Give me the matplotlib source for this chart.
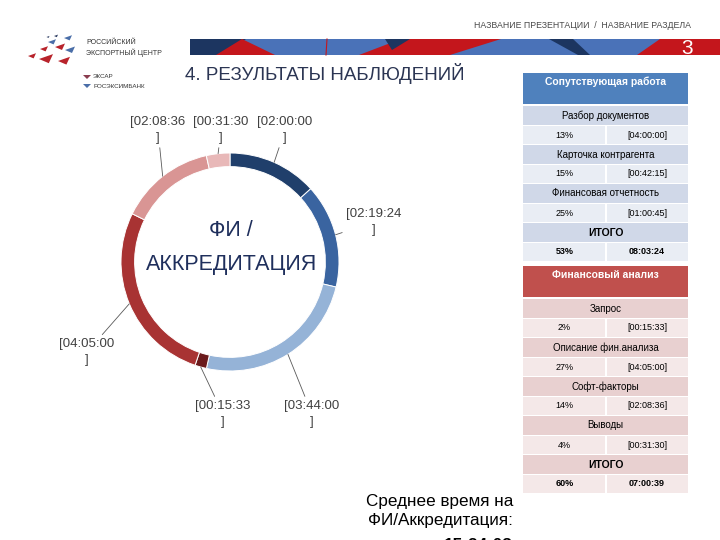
import numpy as np
import matplotlib
matplotlib.use("Agg")
import matplotlib.pyplot as plt
from matplotlib.patches import Rectangle, Polygon

plt.rcParams['font.family'] = ['Liberation Sans', 'DejaVu Sans']

# donut data (time per stage, clockwise from top)
ring_times = ["02:00:00", "02:19:24", "03:44:00", "00:15:33", "04:05:00", "02:08:36", "00:31:30"]
ring_colors = ["#203f6b", "#3a64a0", "#95b3d7", "#6b1a1c", "#a83333", "#d99594", "#e8b8b8"]

# table 1 - Сопутствующая работа
t1_title = "Сопутствующая работа"
t1_names = ["Разбор документов", "Карточка контрагента", "Финансовая отчетность"]
t1_pct = ["13%", "15%", "25%"]
t1_time = ["[04:00:00]", "[00:42:15]", "[01:00:45]"]
t1_total = ["53%", "08:03:24"]

# table 2 - Финансовый анализ
t2_title = "Финансовый анализ"
t2_names = ["Запрос", "Описание фин.анализа", "Софт-факторы", "Выводы"]
t2_pct = ["2%", "27%", "14%", "4%"]
t2_time = ["[00:15:33]", "[04:05:00]", "[02:08:36]", "[00:31:30]"]
t2_total = ["60%", "07:00:39"]

avg_time = "15:24:03"


def to_sec(s):
    h, m, sec = s.split(":")
    return int(h) * 3600 + int(m) * 60 + int(sec)


secs = np.array([to_sec(t) for t in ring_times])

fig = plt.figure(figsize=(7.2, 5.4), dpi=100)
bg = fig.add_axes([0, 0, 1, 1])
bg.set_xlim(0, 720)
bg.set_ylim(540, 0)
bg.axis('off')

# header line + banner
bg.text(583, 25, "НАЗВАНИЕ ПРЕЗЕНТАЦИИ  /  НАЗВАНИЕ РАЗДЕЛА", fontsize=6.3,
        color="#4a4a4a", ha='center', va='center')
bg.add_patch(Rectangle((190, 39), 530, 16, color="#4a72b8", lw=0))
bg.add_patch(Polygon([(190, 39), (246, 39), (222, 55), (190, 55)], color="#1c3560", lw=0))
bg.add_patch(Polygon([(216, 55), (242, 39), (275, 55)], color="#c4161c", lw=0))
bg.add_patch(Polygon([(359, 55), (401, 39), (501, 39), (450, 55)], color="#c4161c", lw=0))
bg.add_patch(Polygon([(385, 39), (410, 39), (392, 50)], color="#1c3560", lw=0))
bg.add_patch(Polygon([(549, 39), (573, 39), (590, 55), (578, 55)], color="#1c3560", lw=0))
bg.add_patch(Polygon([(637, 55), (660, 39), (720, 39), (720, 55)], color="#c4161c", lw=0))
bg.plot([327, 326], [39, 55], color="#c4161c", lw=0.8)
bg.text(687, 48, "3", fontsize=15, color="white", ha='center', va='center')

# logo
tri_red = "#b8232b"
tri_blue = "#4a6ea8"
for (x, y, s, c) in [(32, 56, 4, tri_red), (44, 49, 4, tri_red), (52, 42, 4, tri_blue),
                     (60, 47, 5, tri_red), (68, 38, 4, tri_blue), (46, 59, 7, tri_red),
                     (64, 61, 6, tri_red), (70, 50, 5, tri_blue), (56, 36, 2, "#2b3a60"),
                     (48, 37, 1.5, "#2b3a60")]:
    bg.add_patch(Polygon([(x - s, y), (x + s, y - s * 0.7), (x + s * 0.4, y + s * 0.6)], color=c, lw=0))
bg.text(86, 43, "РОССИЙСКИЙ", fontsize=5, color="#333333", va='center')
bg.text(86, 53, "ЭКСПОРТНЫЙ ЦЕНТР", fontsize=5, color="#333333", va='center')
bg.add_patch(Polygon([(83, 75), (91, 75), (87, 79)], color="#8a3d4f", lw=0))
bg.add_patch(Polygon([(83, 84), (91, 84), (87, 88)], color="#4a6ea8", lw=0))
bg.text(93, 77, "ЭКСАР", fontsize=4.5, color="#333333", va='center')
bg.text(93, 86, "РОСЭКСИМБАНК", fontsize=4.5, color="#333333", va='center')

# title
bg.text(185, 73, "4. РЕЗУЛЬТАТЫ НАБЛЮДЕНИЙ", fontsize=13.5, color="#2b3553", va='center')


def draw_table(top, title, names, pct, times, total, head_col, dark, light):
    x0, x1, xm = 523, 688, 606
    bg.add_patch(Rectangle((x0, top), x1 - x0, 31, color=head_col, lw=0))
    bg.text((x0 + x1) / 2, top + 9, title, fontsize=7.5, color="white", weight='bold',
            ha='center', va='center')
    y = top + 33
    rows = [(n, p, t, False) for n, p, t in zip(names, pct, times)]
    rows.append(("ИТОГО", total[0], total[1], True))
    for n, p, t, bold in rows:
        w = 'bold' if bold else 'normal'
        bg.add_patch(Rectangle((x0, y), x1 - x0, 18.5, color=dark, lw=0))
        bg.text((x0 + x1) / 2, y + 9.5, n, fontsize=7.5 if bold else 7, weight=w,
                ha='center', va='center', color="black")
        y += 19.5
        bg.add_patch(Rectangle((x0, y), xm - x0 - 1, 18.5, color=light, lw=0))
        bg.add_patch(Rectangle((xm + 1, y), x1 - xm - 1, 18.5, color=light, lw=0))
        bg.text((x0 + xm) / 2, y + 9.5, p, fontsize=6.5, weight=w, ha='center', va='center')
        bg.text((xm + x1) / 2, y + 9.5, t, fontsize=6.5, weight=w, ha='center', va='center')
        y += 19.5


draw_table(73, t1_title, t1_names, t1_pct, t1_time, t1_total, "#4f81bd", "#d0d8e8", "#e9edf4")
draw_table(266, t2_title, t2_names, t2_pct, t2_time, t2_total, "#c0504d", "#e8d0d0", "#f4e8e8")

# average time caption (last line runs off the slide as in the original)
bg.text(513, 511, "Среднее время на\nФИ/Аккредитация:", fontsize=12.3, ha='right',
        va='center', linespacing=1.4, color="black")
bg.text(513, 545, avg_time, fontsize=12.3, weight='bold', ha='right', va='center')

# donut
cx, cy, R = 230, 262, 109
half = 200
ax = fig.add_axes([(cx - half) / 720, (540 - cy - half) / 540, 2 * half / 720, 2 * half / 540])
ax.patch.set_alpha(0)
wedges, _ = ax.pie(secs, colors=ring_colors, startangle=90, counterclock=False,
                   radius=1, wedgeprops=dict(width=0.125, edgecolor='white', linewidth=0.7))
lim = half / R
ax.set_xlim(-lim, lim)
ax.set_ylim(-lim, lim)
ax.set_aspect('equal')
ax.axis('off')

ax.text(0.01, 0.13, "ФИ /\nАККРЕДИТАЦИЯ", fontsize=15.5, color="#1f2f5c", ha='center',
        va='center', linespacing=1.8)

# label positions in slide pixels (layout only)
label_px = [(285, 130), (374, 222), (312, 414), (223, 414), (87, 352), (158, 130), (221, 130)]
cum = np.cumsum(secs) / secs.sum()
mids = cum - secs / secs.sum() / 2
for t, m, (px, py) in zip(ring_times, mids, label_px):
    ang = np.deg2rad(90 - 360 * m)
    ax.annotate("[" + t + "\n]", xy=(np.cos(ang), np.sin(ang)),
                xytext=((px - cx) / R, (cy - py) / R), fontsize=9.5, color="#404040",
                ha='center', va='center', linespacing=1.35, annotation_clip=False,
                arrowprops=dict(arrowstyle='-', color="#595959", lw=0.6, shrinkA=1, shrinkB=0))

fig.savefig("out.png", dpi=100)
